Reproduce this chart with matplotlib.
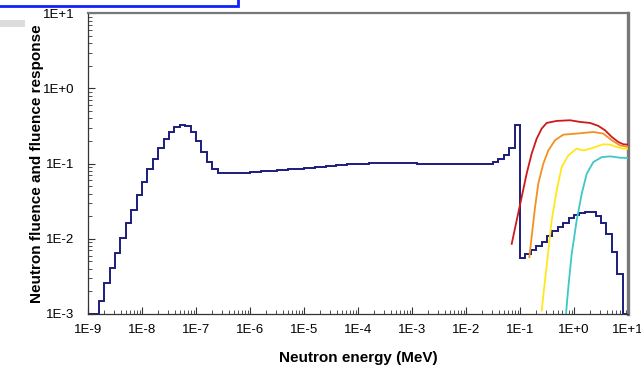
import numpy as np
import matplotlib.pyplot as plt
from matplotlib.patches import Rectangle
from matplotlib.ticker import LogLocator, FuncFormatter, NullFormatter

plt.rcParams['font.family'] = ['Liberation Sans', 'DejaVu Sans']

# neutron spectrum, 10 bins per decade from 1E-9 to 1E+1 MeV
bin_edges = np.logspace(-9, 1, 101)
fluence = [
    1.0e-3, 1.0e-3, 1.49e-3, 2.56e-3, 4.06e-3, 6.5e-3, 0.0104, 0.016, 0.0244, 0.0381,
    0.0564, 0.084, 0.117, 0.16, 0.213, 0.261, 0.308, 0.327, 0.314, 0.267,
    0.203, 0.142, 0.104, 0.084, 0.0758, 0.075, 0.075, 0.075, 0.0755, 0.076,
    0.077, 0.078, 0.079, 0.0797, 0.081, 0.082, 0.083, 0.084, 0.085, 0.0857,
    0.087, 0.088, 0.089, 0.091, 0.092, 0.093, 0.095, 0.097, 0.098, 0.099,
    0.1, 0.1, 0.101, 0.101, 0.102, 0.102, 0.102, 0.102, 0.102, 0.101,
    0.101, 0.1, 0.1, 0.099, 0.099, 0.098, 0.098, 0.098, 0.099, 0.099,
    0.1, 0.1, 0.1, 0.1, 0.1, 0.104, 0.114, 0.129, 0.161, 0.324,
    5.6e-3, 6.3e-3, 7.1e-3, 8.1e-3, 9.2e-3, 0.011, 0.0126, 0.0143, 0.0162, 0.0187,
    0.0206, 0.0219, 0.0226, 0.0226, 0.0204, 0.0162, 0.0117, 6.6e-3, 3.4e-3, 1.0e-3,
]

# fluence response curves (energy in MeV, response)
red_E = [0.0702, 0.0867, 0.1074, 0.1327, 0.1644, 0.2037, 0.252, 0.312, 0.478,
         0.843, 1.29, 1.98, 2.82, 3.75, 4.99, 6.62, 8.2, 10]
red_R = [0.00857, 0.01754, 0.0359, 0.0735, 0.1358, 0.215, 0.292, 0.348, 0.370,
         0.378, 0.359, 0.348, 0.318, 0.278, 0.227, 0.194, 0.181, 0.179]

orange_E = [0.149, 0.164, 0.190, 0.218, 0.270, 0.335, 0.445, 0.634, 1.12,
            2.28, 3.49, 4.99, 7.11, 10]
orange_R = [0.00569, 0.0105, 0.0264, 0.054, 0.1, 0.150, 0.205, 0.243, 0.251,
            0.264, 0.251, 0.205, 0.175, 0.167]

yellow_E = [0.252, 0.290, 0.335, 0.386, 0.478, 0.591, 0.785, 1.12, 1.49, 1.98,
            3.49, 4.64, 6.17, 8.2, 10]
yellow_R = [0.00111, 0.00278, 0.00698, 0.0175, 0.044, 0.090, 0.129, 0.158, 0.150,
            0.158, 0.181, 0.179, 0.167, 0.158, 0.158]

cyan_E = [0.711, 0.785, 0.906, 1.12, 1.39, 1.72, 2.28, 3.25, 4.64, 7.11, 10]
cyan_R = [0.001, 0.00226, 0.0063, 0.0175, 0.0398, 0.0735, 0.105, 0.122, 0.125,
          0.120, 0.119]

fig = plt.figure(figsize=(6.41, 3.67), dpi=100)
ax = fig.add_axes([88 / 641, 53 / 367, 540 / 641, 300.7 / 367])

ax.stairs(fluence, bin_edges, baseline=None, color='#1c1c7c', lw=1.4, zorder=2)
ax.plot(red_E, red_R, color='#cc1a1a', lw=1.3, zorder=3)
ax.plot(orange_E, orange_R, color='#f39020', lw=1.3, zorder=3)
ax.plot(yellow_E, yellow_R, color='#ffe81a', lw=1.3, zorder=3)
ax.plot(cyan_E, cyan_R, color='#3cc8c8', lw=1.3, zorder=3)

ax.set_xscale('log')
ax.set_yscale('log')
ax.set_xlim(1e-9, 1e1)
ax.set_ylim(1e-3, 1e1)

fmt = FuncFormatter(lambda v, p: f"1E{int(round(np.log10(v))):+d}")
for a in (ax.xaxis, ax.yaxis):
    a.set_major_locator(LogLocator(base=10, numticks=30))
    a.set_minor_locator(LogLocator(base=10, subs=np.arange(2, 10), numticks=300))
    a.set_major_formatter(fmt)
    a.set_minor_formatter(NullFormatter())

ax.tick_params(which='both', direction='in', top=False, right=False,
               color='#333333', labelsize=9.5)
ax.tick_params(which='major', length=5, width=0.8)
ax.tick_params(which='minor', length=3, width=0.6)
ax.tick_params(axis='y', pad=10)
ax.tick_params(axis='x', pad=7)

for s in ('left', 'bottom'):
    ax.spines[s].set_color('#333333')
    ax.spines[s].set_linewidth(0.9)
ax.spines['top'].set_color('#777777')
ax.spines['top'].set_linewidth(1.6)
ax.spines['right'].set_color('#777777')
ax.spines['right'].set_linewidth(2.4)

ax.set_xlabel('Neutron energy (MeV)', fontsize=11, fontweight='bold', labelpad=11)
ax.set_ylabel('Neutron fluence and fluence response', fontsize=11,
              fontweight='bold')
ax.yaxis.set_label_coords(-0.082, 0.5)

# cropped bits of the page around the chart
fig.add_artist(Rectangle((-0.02, 1 - 6 / 367), 0.02 + 237.7 / 641, 0.1,
                         transform=fig.transFigure, fill=False,
                         ec='#1020ff', lw=2, clip_on=False))
fig.add_artist(Rectangle((0, 1 - 27 / 367), 25 / 641, 7 / 367,
                         transform=fig.transFigure, fc='#dcdcdc', ec='none'))

fig.savefig('out.png', dpi=100)
